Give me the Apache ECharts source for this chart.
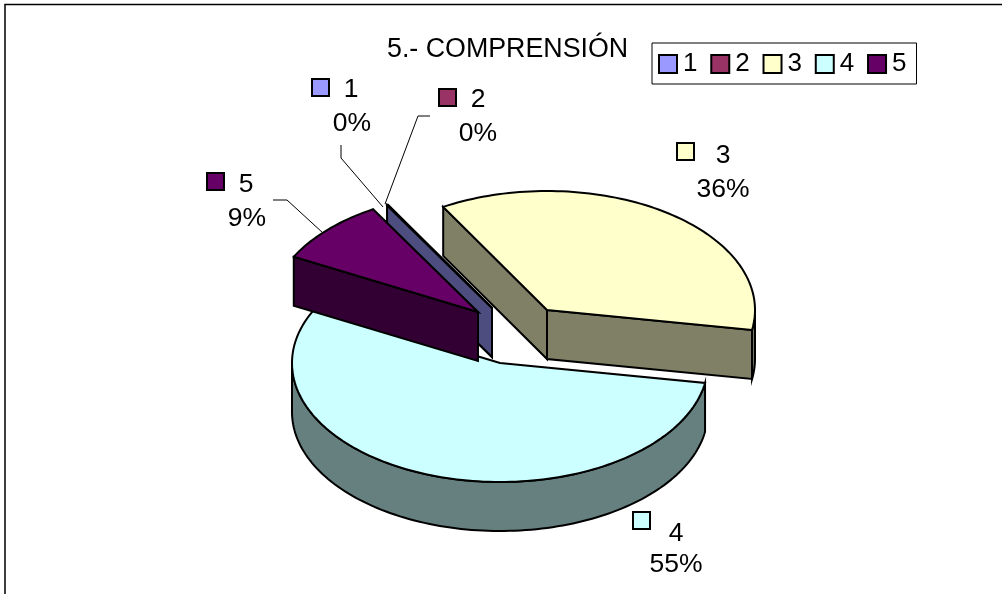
<!DOCTYPE html>
<html>
<head>
<meta charset="utf-8">
<style>html,body{margin:0;padding:0;background:#fff}#c{width:1002px;height:594px}</style>
<script src="https://cdn.jsdelivr.net/npm/echarts@6/dist/echarts.min.js"></script>
</head>
<body>
<div id="c"></div>
<script>
const titleText = '5.- COMPRENSIÓN';
const categories = ['1', '2', '3', '4', '5'];
const values = [0.05, 0.05, 36, 55, 8.9];

const topColors = ['#9999FF', '#993366', '#FFFFCC', '#CCFFFF', '#660066'];
const sideColors = ['#4D4D80', '#4D1A33', '#808066', '#668080', '#330033'];
const apex = [[492, 308], [492, 308], [547, 310], [500, 363], [478, 312]];
const labelBoxes = [[312, 79], [439, 89], [677, 143], [633, 512], [207, 173]];
const labelNamePos = [[351, 89.5], [478, 99.5], [723, 155.5], [676, 533.5], [246, 184.5]];
const labelPctPos = [[352, 123.5], [478, 133.5], [723, 189.5], [676, 564.5], [247, 218.5]];
const leaders = [
  [[341, 145], [341, 158], [383, 207]],
  [[430, 116], [418, 116], [385, 204]],
  null, null,
  [[273, 200], [287, 200], [323, 233]]
];
const zRank = [4, 3, 1, 2, 5];

const RX = 208, RY = 119, DEPTH = 49, START_DEG = -30.3;
const FONT = 'Arial, "Liberation Sans", sans-serif';
const FS = 26.5;

const total = values.reduce((a, b) => a + b, 0);
const spans = values.map(v => v / total * 360);
function rad(d) { return d * Math.PI / 180; }
function rimPoint(c, deg, dy) {
  return [c[0] + RX * Math.sin(rad(deg)), c[1] - RY * Math.cos(rad(deg)) + (dy || 0)];
}
function arcPoints(c, a, b, dy) {
  const pts = [];
  const n = Math.max(2, Math.ceil(Math.abs(b - a) / 1.5));
  for (let i = 0; i <= n; i++) pts.push(rimPoint(c, a + (b - a) * i / n, dy));
  return pts;
}
function poly(points, fill) {
  return {
    type: 'polygon', shape: { points },
    style: { fill, stroke: '#000', lineWidth: 2, lineJoin: 'miter' }
  };
}
function sliceRender(idx) {
  return function (params, api) {
    const v = api.value(0);
    let a = START_DEG;
    for (let i = 0; i < idx; i++) a += spans[i];
    const b = a + v / total * 360;
    const c = apex[idx];
    const top = topColors[idx], side = sideColors[idx];
    const children = [];
    // radial walls, only those facing the viewer
    const wall = d => {
      const p = rimPoint(c, d);
      children.push(poly([c, p, [p[0], p[1] + DEPTH], [c[0], c[1] + DEPTH]], side));
    };
    if (Math.sin(rad(a)) < 0) wall(a);
    if (Math.sin(rad(b)) > 0) wall(b);
    // outer curved wall (front half only)
    const fa = Math.max(a, 90), fb = Math.min(b, 270);
    if (fb > fa) {
      children.push(poly(arcPoints(c, fa, fb, 0).concat(arcPoints(c, fb, fa, DEPTH)), side));
    }
    // top face
    children.push(poly([c].concat(arcPoints(c, a, b, 0)), top));
    return { type: 'group', children };
  };
}
function labelRender(idx) {
  return function (params, api) {
    const v = api.value(0);
    const pct = Math.round(v / total * 100) + '%';
    const children = [];
    if (leaders[idx]) {
      children.push({
        type: 'polyline', shape: { points: leaders[idx] },
        style: { fill: 'none', stroke: '#000', lineWidth: 1 }
      });
    }
    const bx = labelBoxes[idx];
    children.push({
      type: 'rect', shape: { x: bx[0], y: bx[1], width: 17, height: 17 },
      style: { fill: topColors[idx], stroke: '#000', lineWidth: 2 }
    });
    const txt = (t, p) => ({
      type: 'text',
      style: { text: t, x: p[0], y: p[1], fill: '#000', font: FS + 'px ' + FONT, align: 'center', verticalAlign: 'middle' }
    });
    children.push(txt(categories[idx], labelNamePos[idx]));
    children.push(txt(pct, labelPctPos[idx]));
    return { type: 'group', children };
  };
}

const series = [];
categories.forEach((name, i) => {
  series.push({
    type: 'custom', name, coordinateSystem: 'none', silent: true, animation: false,
    z: 2 + zRank[i],
    itemStyle: { color: topColors[i] },
    renderItem: sliceRender(i),
    data: [{ name, value: [values[i]] }]
  });
});
categories.forEach((name, i) => {
  series.push({
    type: 'custom', name: name + ' etiqueta', coordinateSystem: 'none', silent: true, animation: false,
    z: 20,
    renderItem: labelRender(i),
    data: [{ name, value: [values[i]] }]
  });
});

const chart = echarts.init(document.getElementById('c'), null, { renderer: 'canvas' });
chart.setOption({
  backgroundColor: '#fff',
  animation: false,
  title: {
    text: titleText, left: 387, top: 36, padding: 0,
    textStyle: { fontFamily: FONT, fontSize: 26.8, fontWeight: 'normal', color: '#000' }
  },
  legend: {
    data: categories, left: 652, top: 43,
    padding: [8, 10, 7, 6],
    itemWidth: 18, itemHeight: 18, itemGap: 12.8,
    icon: 'rect', selectedMode: false,
    borderColor: '#000', borderWidth: 1, backgroundColor: '#fff',
    itemStyle: { borderColor: '#000', borderWidth: 2 },
    textStyle: { fontFamily: FONT, fontSize: 26, lineHeight: 18, color: '#000', padding: [0, 0, 0, 1] }
  },
  graphic: [{
    type: 'polyline', silent: true, z: 0,
    shape: { points: [[5, 594], [5, 4.5], [1002, 4.5]] },
    style: { fill: 'none', stroke: '#000', lineWidth: 1.5 }
  }],
  series
});
</script>
</body>
</html>
